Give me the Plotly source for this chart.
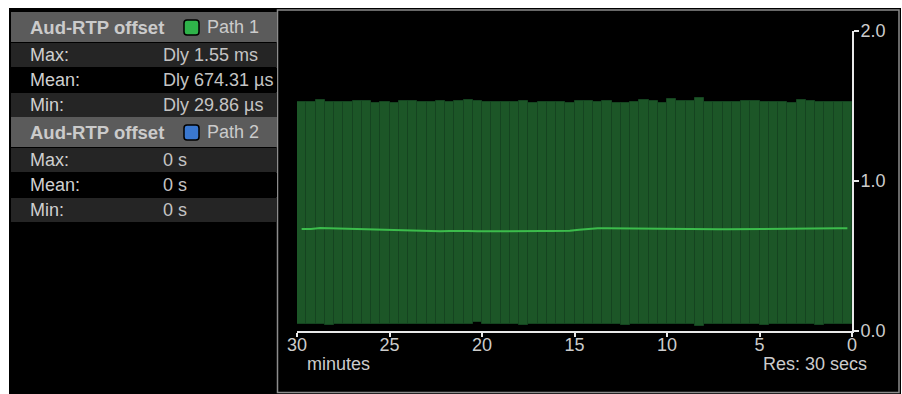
import plotly.graph_objects as go

W, H = 902, 394

# ---------------- data ----------------
minutes_ago = [29.75 - 0.5 * i for i in range(60)]  # bar centres (30-second resolution)
max_ms = [1.524, 1.524, 1.537, 1.528, 1.524, 1.524, 1.530, 1.530, 1.519, 1.528,
          1.519, 1.535, 1.530, 1.526, 1.526, 1.535, 1.524, 1.535, 1.541, 1.530,
          1.524, 1.524, 1.524, 1.528, 1.530, 1.522, 1.524, 1.528, 1.528, 1.522,
          1.530, 1.530, 1.526, 1.530, 1.519, 1.517, 1.524, 1.537, 1.530, 1.522,
          1.544, 1.530, 1.533, 1.550, 1.526, 1.524, 1.524, 1.524, 1.530, 1.535,
          1.526, 1.524, 1.524, 1.517, 1.541, 1.530, 1.526, 1.524, 1.524, 1.524]
min_ms = [0.045, 0.046, 0.044, 0.036, 0.045, 0.046, 0.045, 0.044, 0.046, 0.045,
          0.044, 0.046, 0.045, 0.045, 0.046, 0.044, 0.045, 0.046, 0.045, 0.055,
          0.046, 0.045, 0.044, 0.046, 0.038, 0.045, 0.046, 0.045, 0.044, 0.046,
          0.045, 0.046, 0.044, 0.045, 0.046, 0.040, 0.045, 0.044, 0.046, 0.045,
          0.044, 0.046, 0.045, 0.030, 0.045, 0.046, 0.044, 0.045, 0.046, 0.045,
          0.038, 0.045, 0.046, 0.044, 0.045, 0.046, 0.036, 0.045, 0.046, 0.045]
mean_ms = [0.678, 0.678, 0.684, 0.682, 0.679, 0.678, 0.678, 0.676, 0.675, 0.672,
           0.668, 0.667, 0.667, 0.666, 0.663, 0.662, 0.665, 0.666, 0.664, 0.662,
           0.663, 0.664, 0.664, 0.664, 0.663, 0.664, 0.665, 0.664, 0.664, 0.666,
           0.673, 0.680, 0.682, 0.683, 0.682, 0.681, 0.680, 0.679, 0.678, 0.678,
           0.677, 0.676, 0.677, 0.678, 0.677, 0.676, 0.676, 0.677, 0.677, 0.678,
           0.679, 0.679, 0.678, 0.679, 0.680, 0.681, 0.682, 0.682, 0.683, 0.683]

x_ticks = [30, 25, 20, 15, 10, 5, 0]
y_ticks = [0.0, 1.0, 2.0]

title = "Aud-RTP offset"
paths = ["Path 1", "Path 2"]
path_colors = ["#2fb34a", "#3a78d0"]
stat_labels = ["Max:", "Mean:", "Min:"]
path1_stats = ["Dly 1.55 ms", "Dly 674.31 \u00b5s", "Dly 29.86 \u00b5s"]
path2_stats = ["0 s", "0 s", "0 s"]

# ---------------- helpers ----------------
def px(x):
    return x / W

def py(y):
    return 1 - y / H

shapes = []
annotations = []
FONT = "Liberation Sans, Arial, sans-serif"

def rect(x0, y0, x1, y1, fill, line=None, lw=0):
    shapes.append(dict(type="rect", xref="paper", yref="paper",
                       x0=px(x0), x1=px(x1), y0=py(y1), y1=py(y0),
                       fillcolor=fill, line=dict(color=line or fill, width=lw),
                       layer="below"))

def rrect(x0, y0, x1, y1, r, fill, line, lw):
    X0, X1 = px(x0), px(x1)
    Y0, Y1 = py(y0), py(y1)
    rx, ry = r / W, r / H
    d = (f"M {X0+rx},{Y0} L {X1-rx},{Y0} Q {X1},{Y0} {X1},{Y0-ry} "
         f"L {X1},{Y1+ry} Q {X1},{Y1} {X1-rx},{Y1} L {X0+rx},{Y1} "
         f"Q {X0},{Y1} {X0},{Y1+ry} L {X0},{Y0-ry} Q {X0},{Y0} {X0+rx},{Y0} Z")
    shapes.append(dict(type="path", xref="paper", yref="paper", path=d,
                       fillcolor=fill, line=dict(color=line, width=lw), layer="above"))

def text(x, y, s, size=17, color="#cccccc", bold=False, anchor="left"):
    annotations.append(dict(xref="paper", yref="paper", x=px(x), y=py(y),
                            text=f"<b>{s}</b>" if bold else s, showarrow=False,
                            xanchor=anchor, yanchor="middle", borderpad=0,
                            font=dict(family=FONT, size=size, color=color)))

# outer black panel
rect(9, 8, 901, 394, "#000000")
# chart panel border
shapes.append(dict(type="rect", xref="paper", yref="paper",
                   x0=px(277.5), x1=px(899), y0=py(392.5), y1=py(10),
                   fillcolor="rgba(0,0,0,0)", line=dict(color="#8c8c8c", width=1.5),
                   layer="below"))

# left stats panel
blocks = [(12, paths[0], path_colors[0], path1_stats),
          (117, paths[1], path_colors[1], path2_stats)]
for top, pname, pcol, stats in blocks:
    rect(11, top, 277, top + 30, "#5b5b5b")
    text(29, top + 15, title, size=18.5, color="#cbcbcb", bold=True)
    rrect(184, top + 8, 199, top + 23, 3, pcol, "#000000", 1.5)
    text(206, top + 15, pname, size=18, color="#cbcbcb")
    for i, (lab, val) in enumerate(zip(stat_labels, stats)):
        r0 = top + 30 + i * 25
        fill = "#000000" if i == 1 else "#252525"
        rect(11, r0 + 1, 277, r0 + 25, fill)
        text(29, r0 + 13, lab, size=18, color="#d0d0d0")
        text(162, r0 + 13, val, size=18, color="#c4c4c4")

# axis captions
text(306, 364, "minutes", size=18, color="#cccccc")
text(868, 364, "Res: 30 secs", size=18, color="#cccccc", anchor="right")

# ---------------- traces ----------------
bar_heights = [mx - mn for mx, mn in zip(max_ms, min_ms)]
fig = go.Figure()
fig.add_trace(go.Bar(x=minutes_ago, y=bar_heights, base=min_ms, width=0.5,
                     marker=dict(color="#1c5627", line=dict(color="#154420", width=1)),
                     hoverinfo="skip", showlegend=False))
fig.add_trace(go.Scatter(x=minutes_ago, y=mean_ms, mode="lines",
                         line=dict(color="#3cbc4c", width=2),
                         hoverinfo="skip", showlegend=False))

fig.update_layout(
    template="none",
    width=W, height=H,
    autosize=False,
    margin=dict(l=0, r=0, t=0, b=0, pad=0),
    paper_bgcolor="#ffffff",
    plot_bgcolor="rgba(0,0,0,0)",
    bargap=0,
    shapes=shapes,
    annotations=annotations,
    xaxis=dict(domain=[px(297), px(852)], range=[30, 0], tickvals=x_ticks,
               ticktext=[str(v) for v in x_ticks], automargin=False,
               showgrid=False, zeroline=False, showline=True,
               linecolor="#e8e8e8", linewidth=2, ticks="outside", ticklen=4,
               tickwidth=2, tickcolor="#e8e8e8", ticklabelstandoff=-7,
               tickfont=dict(family=FONT, size=18, color="#cccccc")),
    yaxis=dict(domain=[py(330.5), py(31)], range=[0, 2], side="right",
               tickvals=y_ticks, ticktext=[f"{v:.1f}" for v in y_ticks],
               automargin=False,
               showgrid=False, zeroline=False, showline=True,
               linecolor="#e8e8e8", linewidth=2, ticks="outside", ticklen=5,
               tickwidth=2, tickcolor="#e8e8e8", ticklabelstandoff=-2,
               tickfont=dict(family=FONT, size=18, color="#cccccc")),
)

post = ("document.documentElement.style.margin='0';"
        "document.documentElement.style.padding='0';"
        "document.documentElement.style.overflow='hidden';"
        "document.body.style.margin='0';"
        "document.body.style.padding='0';"
        "document.body.style.overflow='hidden';")

fig.write_html("out.html", post_script=post, config={"displayModeBar": False})
